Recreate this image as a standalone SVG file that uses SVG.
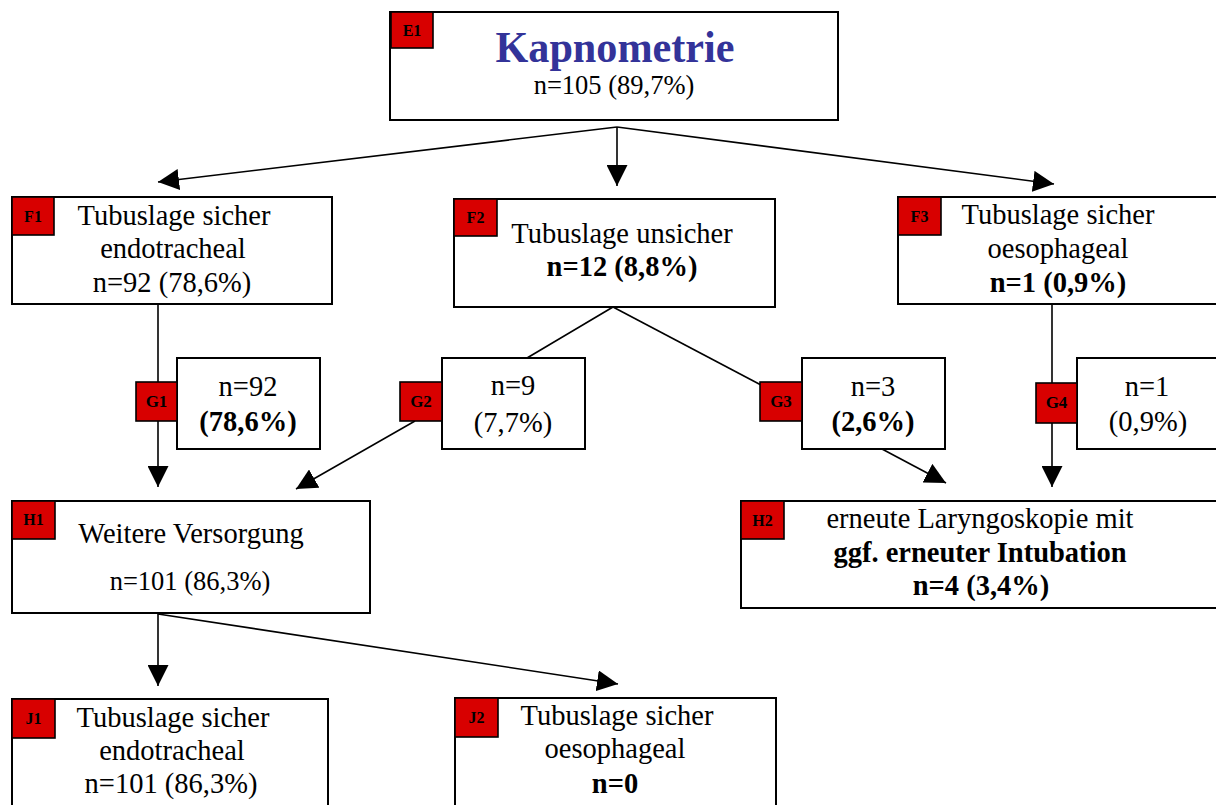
<svg xmlns="http://www.w3.org/2000/svg" width="1216" height="805" viewBox="0 0 1216 805">
  <defs>
    <style>
      .box { fill: #ffffff; stroke: #000000; stroke-width: 2; }
      .badge { fill: #d80000; stroke: #000000; stroke-width: 1.6; }
      .btxt { font-family: "Liberation Serif", "Times New Roman", serif; font-weight: bold; font-size: 16px; fill: #000000; text-anchor: middle; }
      .gtxt { font-family: "Liberation Serif", "Times New Roman", serif; font-weight: bold; font-size: 17px; fill: #000000; text-anchor: middle; }
      .t { font-family: "Liberation Serif", "Times New Roman", serif; font-size: 28.5px; fill: #000000; text-anchor: middle; }
      .ts { font-family: "Liberation Serif", "Times New Roman", serif; font-size: 26.5px; fill: #000000; text-anchor: middle; }
      .b { font-weight: bold; }
      .title { font-family: "Liberation Serif", "Times New Roman", serif; font-weight: bold; font-size: 44px; fill: #333399; text-anchor: middle; }
      .conn { stroke: #000000; stroke-width: 1.6; fill: none; }
      .arr { marker-end: url(#head); }
    </style>
    <marker id="head" viewBox="0 0 21 21" refX="21" refY="10.5" markerWidth="21" markerHeight="21" markerUnits="userSpaceOnUse" orient="auto">
      <path d="M0,0 L21,10.5 L0,21 Z" fill="#000000"/>
    </marker>
  </defs>

  <rect width="1216" height="805" fill="#ffffff"/>

  <!-- connectors -->
  <g id="connectors">
    <line class="conn arr" x1="617" y1="127" x2="158" y2="182"/>
    <line class="conn arr" x1="617" y1="127" x2="617" y2="186"/>
    <line class="conn arr" x1="617" y1="127" x2="1054" y2="184"/>

    <line class="conn arr" x1="158" y1="304" x2="158" y2="487"/>
    <line class="conn arr" x1="1052" y1="304" x2="1052" y2="487"/>

    <line class="conn" x1="613" y1="307" x2="527" y2="358"/>
    <line class="conn" x1="613" y1="307" x2="761" y2="385"/>

    <line class="conn arr" x1="415" y1="421" x2="296" y2="489"/>
    <line class="conn arr" x1="882" y1="449" x2="946" y2="483"/>

    <line class="conn arr" x1="158" y1="614" x2="158" y2="686"/>
    <line class="conn arr" x1="158" y1="614" x2="618" y2="684"/>
  </g>

  <!-- E1 -->
  <g id="E1">
    <rect class="box" x="390" y="12" width="448" height="108"/>
    <rect class="badge" x="391" y="12" width="42" height="36"/>
    <text class="btxt" x="412" y="36">E1</text>
    <text class="title" x="615" y="62" textLength="239" lengthAdjust="spacingAndGlyphs">Kapnometrie</text>
    <text class="ts" x="614" y="94">n=105 (89,7%)</text>
  </g>

  <!-- F1 -->
  <g id="F1">
    <rect class="box" x="12" y="197" width="320" height="107"/>
    <rect class="badge" x="12" y="197" width="42" height="38"/>
    <text class="btxt" x="33" y="222">F1</text>
    <text class="t" x="174" y="225">Tubuslage sicher</text>
    <text class="t" x="173" y="258">endotracheal</text>
    <text class="t" x="172" y="292">n=92 (78,6%)</text>
  </g>

  <!-- F2 -->
  <g id="F2">
    <rect class="box" x="454" y="199" width="321" height="108"/>
    <rect class="badge" x="454" y="199" width="43" height="37"/>
    <text class="btxt" x="475.5" y="223">F2</text>
    <text class="t" x="622" y="243">Tubuslage unsicher</text>
    <text class="t b" x="622" y="276">n=12 (8,8%)</text>
  </g>

  <!-- F3 -->
  <g id="F3">
    <rect class="box" x="898" y="197" width="340" height="107"/>
    <rect class="badge" x="898" y="197" width="43" height="38"/>
    <text class="btxt" x="919.5" y="222">F3</text>
    <text class="t" x="1058" y="224">Tubuslage sicher</text>
    <text class="t" x="1058" y="258">oesophageal</text>
    <text class="t b" x="1058" y="292">n=1 (0,9%)</text>
  </g>

  <!-- G1 -->
  <g id="G1">
    <rect class="box" x="177" y="358" width="143" height="91"/>
    <rect class="badge" x="136" y="382" width="41" height="39"/>
    <text class="gtxt" x="156.5" y="407">G1</text>
    <text class="t" x="248" y="396">n=92</text>
    <text class="t b" x="248" y="431">(78,6%)</text>
  </g>

  <!-- G2 -->
  <g id="G2">
    <rect class="box" x="442" y="358" width="143" height="91"/>
    <rect class="badge" x="400" y="382" width="42" height="39"/>
    <text class="gtxt" x="421" y="407">G2</text>
    <text class="t" x="513" y="395">n=9</text>
    <text class="t" x="513" y="432">(7,7%)</text>
  </g>

  <!-- G3 -->
  <g id="G3">
    <rect class="box" x="802" y="358" width="143" height="91"/>
    <rect class="badge" x="760" y="382" width="42" height="39"/>
    <text class="gtxt" x="781" y="407">G3</text>
    <text class="t" x="873" y="396">n=3</text>
    <text class="t b" x="873" y="431">(2,6%)</text>
  </g>

  <!-- G4 -->
  <g id="G4">
    <rect class="box" x="1077" y="358" width="160" height="91"/>
    <rect class="badge" x="1036" y="383" width="41" height="40"/>
    <text class="gtxt" x="1056.5" y="408">G4</text>
    <text class="t" x="1147" y="396">n=1</text>
    <text class="t" x="1148" y="431">(0,9%)</text>
  </g>

  <!-- H1 -->
  <g id="H1">
    <rect class="box" x="12" y="501" width="358" height="112"/>
    <rect class="badge" x="12" y="501" width="43" height="38"/>
    <text class="btxt" x="33.5" y="525">H1</text>
    <text class="t" x="191" y="543">Weitere Versorgung</text>
    <text class="ts" x="190" y="590">n=101 (86,3%)</text>
  </g>

  <!-- H2 -->
  <g id="H2">
    <rect class="box" x="741" y="501" width="500" height="107"/>
    <rect class="badge" x="741" y="501" width="43" height="38"/>
    <text class="btxt" x="762.5" y="526">H2</text>
    <text class="t" x="980" y="528">erneute Laryngoskopie mit</text>
    <text class="t b" x="980" y="562">ggf. erneuter Intubation</text>
    <text class="t b" x="981" y="595">n=4 (3,4%)</text>
  </g>

  <!-- J1 -->
  <g id="J1">
    <rect class="box" x="12" y="699" width="316" height="130"/>
    <rect class="badge" x="12" y="699" width="43" height="39"/>
    <text class="btxt" x="33.5" y="724">J1</text>
    <text class="t" x="173" y="727">Tubuslage sicher</text>
    <text class="t" x="172" y="760">endotracheal</text>
    <text class="t" x="171" y="793">n=101 (86,3%)</text>
  </g>

  <!-- J2 -->
  <g id="J2">
    <rect class="box" x="455" y="698" width="321" height="130"/>
    <rect class="badge" x="455" y="698" width="43" height="39"/>
    <text class="btxt" x="476.5" y="723">J2</text>
    <text class="t" x="617" y="725">Tubuslage sicher</text>
    <text class="t" x="615" y="758">oesophageal</text>
    <text class="t b" x="615" y="793">n=0</text>
  </g>
</svg>
